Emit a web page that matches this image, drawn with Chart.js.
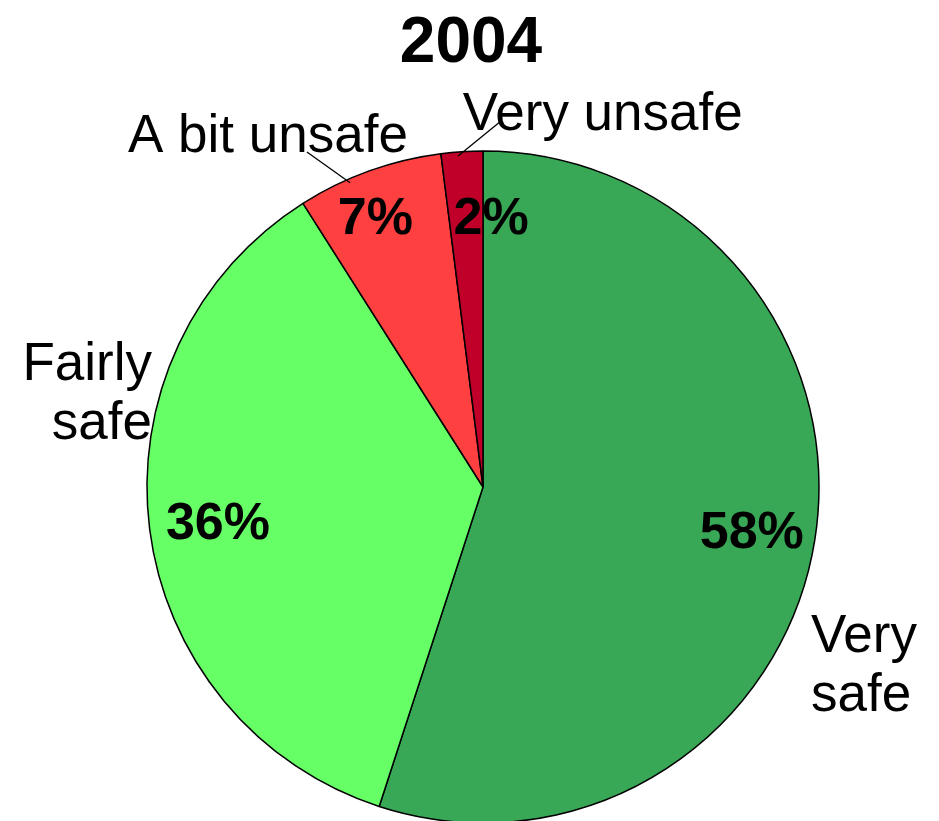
<!DOCTYPE html>
<html>
<head>
<meta charset="utf-8">
<script src="https://cdn.jsdelivr.net/npm/chart.js@4/dist/chart.umd.min.js"></script>
<style>
    html, body { margin: 0; padding: 0; background: #fff; }
    #wrap { width: 939px; height: 821px; }
</style>
</head>
<body>
<div id="wrap"><canvas id="pieChart" width="939" height="821"></canvas></div>
<script>
// chart data
const chartTitle = "2004";
const categories = ["Very safe", "Fairly safe", "A bit unsafe", "Very unsafe"];
const shares = [55, 36, 7, 2];
const pctLabels = ["58%", "36%", "7%", "2%"];
const sliceColors = ["#38a856", "#66ff66", "#ff4040", "#c00028"];

// where the text sits, in units of the pie radius (from the pie centre)
const pctLayout = [
    { r: 0.81, da: 0 },
    { r: 0.795, da: 0 },
    { r: 0.87, da: -1.8 },
    { r: 0.81, da: 5.3 }
];
const nameLayout = [
    { lines: ["Very", "safe"], x: 0.976, y: 0.491, align: "left" },
    { lines: ["Fairly", "safe"], x: -0.985, y: -0.318, align: "right" },
    { lines: ["A bit unsafe"], x: -0.64, y: -0.997, align: "center", lead: { x: -0.524, y: -0.997, a: 336.4 } },
    { lines: ["Very unsafe"], x: -0.06, y: -1.062, align: "left", lead: { x: 0.05, y: -1.086, a: 355.7 } }
];

const FONT = "'Liberation Sans', Arial, sans-serif";

//Draws the title, percentages and category names on top of the pie
const labelPlugin = {
    id: "pieLabels",
    afterDatasetsDraw(chart) {
        const ctx = chart.ctx;
        const arcs = chart.getDatasetMeta(0).data;
        const cx = arcs[0].x;
        const cy = arcs[0].y;
        const R = arcs[0].outerRadius;

        ctx.save();
        ctx.fillStyle = "#000";

        // title
        ctx.font = "bold 64px " + FONT;
        ctx.textAlign = "center";
        ctx.textBaseline = "alphabetic";
        ctx.fillText(chartTitle, cx - 12, 62);

        // percentages
        ctx.font = "bold 52px " + FONT;
        arcs.forEach((arc, i) => {
            const mid = (arc.startAngle + arc.endAngle) / 2 + pctLayout[i].da * Math.PI / 180;
            const px = cx + Math.cos(mid) * R * pctLayout[i].r;
            const py = cy + Math.sin(mid) * R * pctLayout[i].r;
            ctx.fillText(pctLabels[i], px, py + 0.358 * 52);
        });

        // category names
        ctx.font = "53px " + FONT;
        nameLayout.forEach((n, i) => {
            ctx.textAlign = n.align;
            n.lines.forEach((line, j) => {
                ctx.fillText(line, cx + n.x * R, cy + n.y * R + j * 59);
            });
            if (n.lead) {
                //leader line from the text to the edge of the slice
                const a = (n.lead.a - 90) * Math.PI / 180;
                ctx.beginPath();
                ctx.moveTo(cx + n.lead.x * R, cy + n.lead.y * R);
                ctx.lineTo(cx + Math.cos(a) * (R - 4), cy + Math.sin(a) * (R - 4));
                ctx.lineWidth = 1.3;
                ctx.strokeStyle = "#000";
                ctx.stroke();
            }
        });
        ctx.restore();
    }
};

new Chart(document.getElementById("pieChart"), {
    type: "pie",
    data: {
        labels: categories,
        datasets: [{
            data: shares,
            backgroundColor: sliceColors,
            borderColor: "#000",
            borderWidth: 1.5,
            radius: 336,
            clip: false
        }]
    },
    options: {
        responsive: false,
        animation: false,
        rotation: 0,
        layout: {
            padding: { left: 146, right: 119, top: 153, bottom: 0 }
        },
        plugins: {
            legend: { display: false },
            tooltip: { enabled: false },
            title: { display: false }
        }
    },
    plugins: [labelPlugin]
});
</script>
</body>
</html>
